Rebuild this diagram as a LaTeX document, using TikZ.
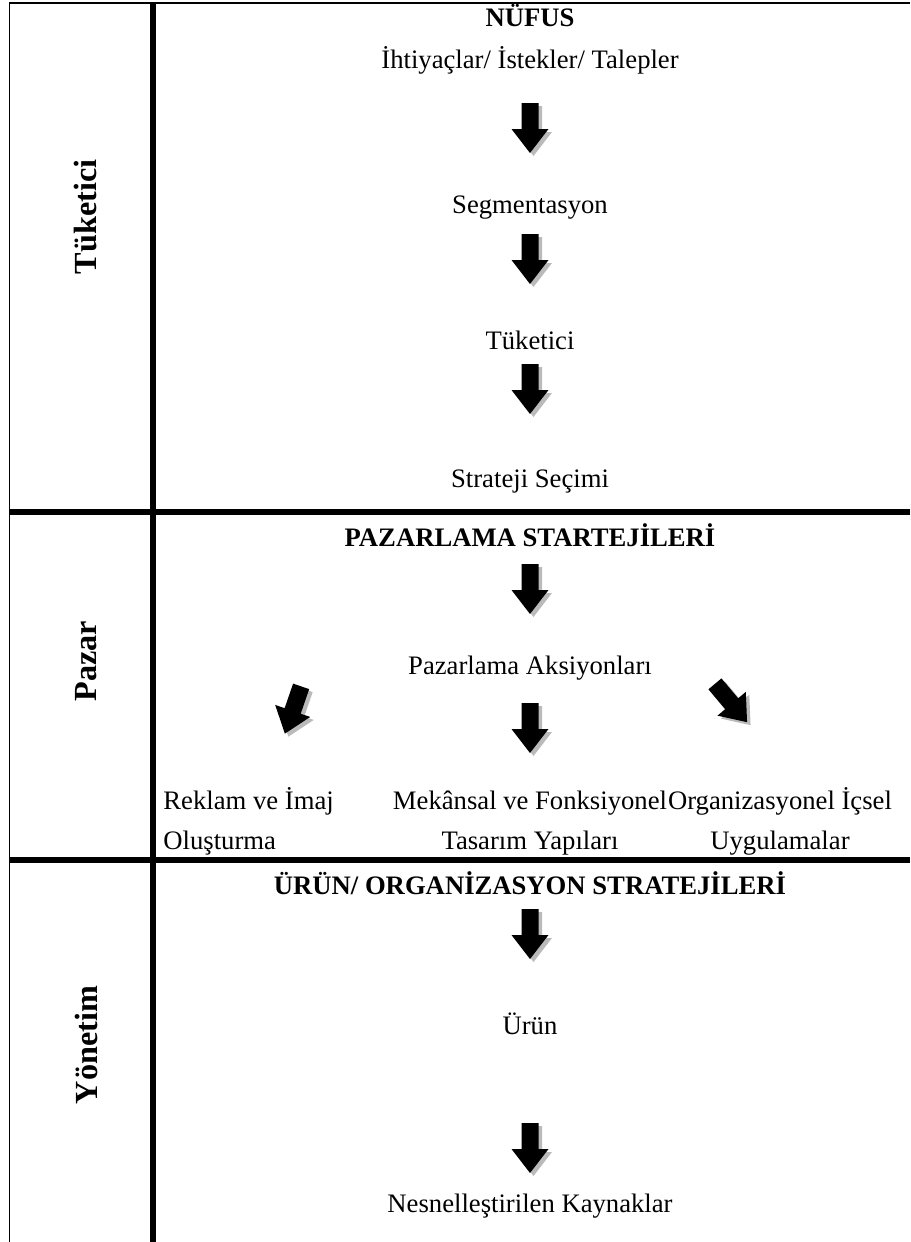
\documentclass[tikz,border=0pt]{standalone}
\usepackage{fontspec}
\setmainfont{Liberation Serif}
\usepackage{tikz}
\usetikzlibrary{positioning}

\begin{document}
\begin{tikzpicture}[
        x=0.45pt, y=-0.45pt,
        textnode/.style={inner sep=0pt, align=center, font=\fontsize{12}{18}\selectfont},
        titlenode/.style={inner sep=0pt, font=\fontsize{12}{14}\selectfont\bfseries},
        sidelabel/.style={inner sep=0pt, rotate=90, font=\fontsize{14.5}{16}\selectfont\bfseries},
        blockarrow/.pic={\path[pic actions] (-8.5,-25) -- (8.5,-25) -- (8.5,1) -- (18.5,1) -- (0,25) -- (-18.5,1) -- (-8.5,1) -- cycle;},
        thinline/.style={line width=0.7pt},
        thickline/.style={line width=2.3pt}
    ]
        \useasboundingbox (0,0) rectangle (910,1242);

        % Frame
        \draw[thinline] (9.5,1242) -- (9.5,3) -- (910,3);
        \draw[thickline] (153,3) -- (153,1242);
        \draw[thickline] (9,512) -- (910,512);
        \draw[thickline] (9,860) -- (910,860);

        % Side labels
        \node[sidelabel] (lab1) at (86,217) {Tüketici};
        \node[sidelabel] (lab2) at (86,661) {Pazar};
        \node[sidelabel] (lab3) at (86,1045) {Yönetim};

        % Tüketici
        \node[titlenode] (nufus) at (530,16) {NÜFUS};
        \node[textnode] (ihtiyac) at (530,60) {İhtiyaçlar/ İstekler/ Talepler};
        \node[textnode] (segment) at (530,208) {Segmentasyon};
        \node[textnode] (tuketici) at (530,340) {Tüketici};
        \node[textnode] (strateji) at (530,482) {Strateji Seçimi};

        % Pazar
        \node[titlenode] (pazstr) at (530,535) {PAZARLAMA STARTEJİLERİ};
        \node[textnode] (aksiyon) at (530,668) {Pazarlama Aksiyonları};
        \node[textnode, anchor=north west, align=left] (reklam) at (163,787) {Reklam ve İmaj\\Oluşturma};
        \node[textnode, anchor=north] (mekan) at (530,787) {\vphantom{İ}Mekânsal ve Fonksiyonel\\Tasarım Yapıları};
        \node[textnode, anchor=north] (organ) at (780,787) {Organizasyonel İçsel\\Uygulamalar};

        % Yönetim
        \node[titlenode] (urunstr) at (530,883) {ÜRÜN/ ORGANİZASYON STRATEJİLERİ};
        \node[textnode] (urun) at (530,1024) {Ürün};
        \node[textnode] (kaynak) at (530,1206) {Nesnelleştirilen Kaynaklar};

        % Block arrows with shadow
        \foreach \x/\y/\ang [count=\i] in {530/128/0, 530/259/0, 530/389/0, 530/589/0, 293/710/-19, 530/728/0, 731/703/40, 530/934/0, 530/1148/0} {
            \pic[rotate=\ang, fill=black!27] at (\x+3.5,\y+3) {blockarrow};
            \pic[rotate=\ang, fill=black] (a\i) at (\x,\y) {blockarrow};
        }
    \end{tikzpicture}
\end{document}
